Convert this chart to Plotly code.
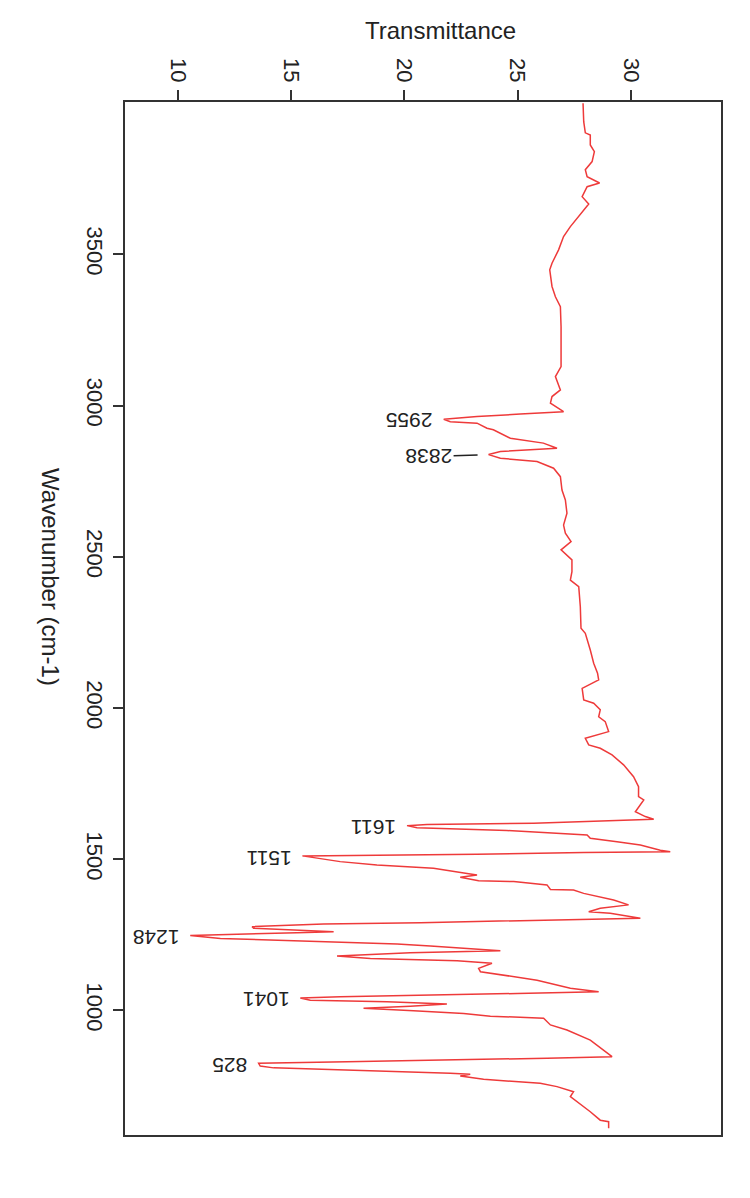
import plotly.graph_objects as go

wavenumber = [4000, 3939, 3902, 3895, 3862, 3840, 3807, 3780, 3757, 3736, 3724, 3691, 3667, 3647, 3620,
              3592, 3559, 3515, 3471, 3449, 3394, 3360, 3327, 3261, 3129, 3096, 3052, 3030, 3008, 2980,
              2972, 2964, 2955, 2947, 2942, 2925, 2920, 2892, 2876, 2859, 2848, 2838, 2826, 2815, 2793,
              2765, 2721, 2688, 2644, 2605, 2578, 2550, 2523, 2490, 2451, 2423, 2401, 2335, 2264, 2247,
              2192, 2148, 2115, 2093, 2065, 2027, 2016, 1994, 1971, 1955, 1922, 1900, 1878, 1867, 1845,
              1812, 1773, 1740, 1707, 1696, 1657, 1641, 1632, 1627, 1619, 1615, 1611, 1604, 1595, 1580,
              1569, 1558, 1547, 1530, 1525, 1522, 1516, 1511, 1492, 1481, 1470, 1453, 1448, 1440, 1429,
              1426, 1415, 1400, 1398, 1387, 1365, 1349, 1338, 1326, 1321, 1305, 1297, 1290, 1286, 1277,
              1272, 1260, 1257, 1248, 1238, 1233, 1227, 1220, 1213, 1202, 1197, 1191, 1180, 1172, 1164,
              1156, 1139, 1128, 1117, 1100, 1073, 1062, 1056, 1051, 1045, 1041, 1034, 1029, 1021, 1014,
              1007, 999, 990, 981, 974, 952, 935, 902, 869, 847, 842, 838, 830, 825, 816,
              810, 803, 797, 792, 789, 783, 772, 764, 759, 748, 731, 715, 687, 665, 637,
              632, 610]

transmittance = [27.89, 27.92, 27.99, 28.21, 28.21, 28.39, 28.29, 27.99, 28.07, 28.62, 28.07, 27.85, 28.14, 27.92, 27.65,
                 27.33, 27.03, 26.81, 26.52, 26.42, 26.52, 26.67, 26.89, 26.92, 26.92, 26.67, 26.89, 26.52, 26.45, 27.03,
                 25.12, 23.21, 21.74, 22.03, 23.21, 23.65, 23.93, 24.68, 26.14, 26.74, 24.24, 23.72, 24.24, 25.86, 26.59,
                 26.89, 26.96, 27.11, 27.18, 27.03, 27.11, 27.36, 26.92, 27.40, 27.40, 27.33, 27.70, 27.77, 27.80, 27.99,
                 28.21, 28.36, 28.53, 28.58, 27.85, 27.92, 28.36, 28.65, 28.58, 28.87, 29.02, 27.99, 28.14, 28.65, 29.17,
                 29.68, 30.12, 30.34, 30.34, 30.57, 30.20, 30.64, 31.01, 28.80, 25.71, 21.00, 20.12, 20.56, 24.53, 28.07,
                 28.21, 29.39, 30.42, 31.30, 31.74, 27.92, 23.21, 15.50, 17.17, 18.79, 21.29, 22.77, 23.21, 22.47, 23.28,
                 24.83, 26.30, 26.45, 27.47, 27.92, 29.24, 29.90, 28.65, 28.14, 29.09, 30.42, 25.86, 20.71, 16.44, 13.28,
                 13.35, 16.88, 15.26, 10.55, 11.88, 14.08, 17.03, 19.68, 21.15, 23.65, 24.24, 20.26, 17.03, 18.50, 22.33,
                 23.87, 23.28, 23.36, 24.38, 25.86, 27.33, 28.58, 24.98, 20.41, 17.17, 15.41, 15.85, 19.24, 21.88, 20.26,
                 18.20, 20.41, 22.62, 23.80, 26.15, 26.45, 27.18, 28.21, 28.80, 29.17, 26.30, 22.62, 17.47, 13.57, 13.64,
                 14.23, 17.47, 20.71, 22.03, 22.91, 22.47, 23.50, 24.98, 26.00, 26.74, 27.47, 27.33, 27.85, 28.21, 28.65,
                 29.02, 29.02]

peak_labels = ["2955", "2838", "1611", "1511", "1248", "1041", "825"]
peak_wavenumbers = [2955, 2838, 1611, 1511, 1248, 1041, 825]
peak_transmittance = [21.74, 23.72, 20.12, 15.50, 10.55, 15.41, 13.57]

x_ticks = [10, 15, 20, 25, 30]
y_ticks = [1000, 1500, 2000, 2500, 3000, 3500]

NARROW = "Liberation Sans Narrow, Arial Narrow, Liberation Sans, Arial, sans-serif"
REG = "Liberation Sans, Arial, sans-serif"
AX = "#333333"

fig = go.Figure()
fig.add_trace(go.Scatter(x=transmittance, y=wavenumber, mode="lines",
                         line=dict(color="#ee3a3a", width=1.5), showlegend=False))

anns = []
for lab, w, t in zip(peak_labels, peak_wavenumbers, peak_transmittance):
    if lab == "2838":
        anns.append(dict(x=t, y=w, xref="x", yref="y", text=lab, textangle=180,
                         showarrow=True, arrowhead=0, arrowwidth=1.5, arrowcolor="#222",
                         ax=-60, ay=2, standoff=11,
                         font=dict(family=NARROW, size=21, color="#222")))
    else:
        anns.append(dict(x=t, y=w, xref="x", yref="y", text=lab, textangle=180,
                         showarrow=False, xanchor="right", yanchor="middle", xshift=-9, yshift=-2,
                         font=dict(family=NARROW, size=21, color="#222")))

anns.append(dict(x=0.53, y=1.069, xref="paper", yref="paper", text="Transmittance",
                 showarrow=False, xanchor="center", yanchor="middle",
                 font=dict(family=REG, size=24, color="#222")))
anns.append(dict(x=-0.124, y=0.54, xref="paper", yref="paper", text="Wavenumber (cm-1)",
                 textangle=90, showarrow=False, xanchor="center", yanchor="middle",
                 font=dict(family=REG, size=24, color="#222")))

fig.update_layout(
    width=750, height=1198,
    margin=dict(l=125, r=29, t=102, b=63),
    paper_bgcolor="white", plot_bgcolor="white",
    annotations=anns,
    xaxis=dict(side="top", range=[7.67, 33.98], tickvals=x_ticks, ticks="outside", ticklen=10,
               tickwidth=1.5, tickcolor=AX, showline=True, linewidth=1.5, linecolor=AX, mirror=True,
               showgrid=False, zeroline=False, tickangle=90,
               tickfont=dict(family=NARROW, size=22, color="#222")),
    yaxis=dict(range=[588, 4004], tickvals=y_ticks, ticks="outside", ticklen=10,
               tickwidth=1.5, tickcolor=AX, showline=True, linewidth=1.5, linecolor=AX, mirror=True,
               showgrid=False, zeroline=False, tickangle=90,
               tickfont=dict(family=NARROW, size=22, color="#222")),
)

fig.write_html("out.html")
